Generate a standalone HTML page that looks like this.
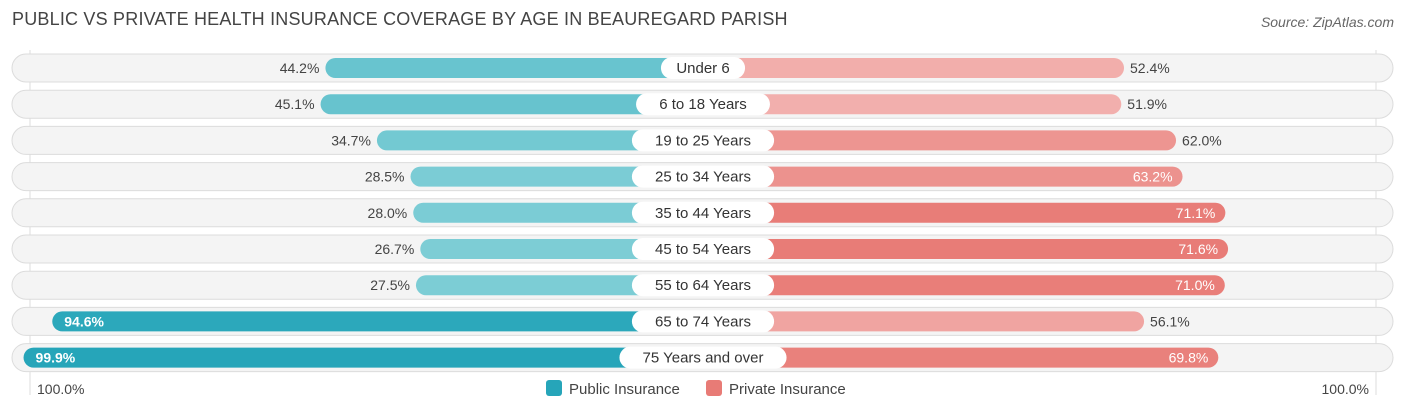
<!DOCTYPE html>
<html><head><meta charset="utf-8"><style>
body{margin:0;background:#fff;font-family:"Liberation Sans",sans-serif;}
#wrap{position:relative;width:1406px;height:413px;overflow:hidden;}
.title{position:absolute;left:12px;top:9px;font-size:18px;color:#444;letter-spacing:0.2px}
.src{position:absolute;right:12px;top:14px;font-size:14px;color:#666;font-style:italic}
</style></head><body>
<div id="wrap">
<div class="title">PUBLIC VS PRIVATE HEALTH INSURANCE COVERAGE BY AGE IN BEAUREGARD PARISH</div>
<div class="src">Source: ZipAtlas.com</div>
<svg id="svg" width="1406" height="413" style="position:absolute;left:0;top:0"></svg>
</div>
<script>
const categories=["Under 6","6 to 18 Years","19 to 25 Years","25 to 34 Years","35 to 44 Years","45 to 54 Years","55 to 64 Years","65 to 74 Years","75 Years and over"];
const publicVals=[44.2,45.1,34.7,28.5,28.0,26.7,27.5,94.6,99.9];
const privateVals=[52.4,51.9,62.0,63.2,71.1,71.6,71.0,56.1,69.8];
const axisLabels=["100.0%","100.0%"];
const svg=document.getElementById('svg');
const NS='http://www.w3.org/2000/svg';
const cx=703,zeroL=565,zeroR=840,scale=5.42,top0=68,step=36.2,bh=20;
const xL=v=>zeroL-v*scale, xR=v=>zeroR+v*scale, yC=i=>top0+i*step;
function mk(t,a){const e=document.createElementNS(NS,t);for(const k in a)e.setAttribute(k,a[k]);svg.appendChild(e);return e;}
function mix(c1,c2,t){return 'rgb('+c1.map((c,i)=>Math.round(c+(c2[i]-c)*t)).join(',')+')';}
[30,1376].forEach((x,j)=>{const l=mk('line',{x1:x,x2:x,y1:50,y2:395,stroke:'#ddd','stroke-width':1});
});
categories.forEach((c,i)=>{
 const y=yC(i);
 const tr=mk('rect',{x:12,y:y-14,width:1381,height:28,rx:14,fill:'#f4f4f4',stroke:'#dcdcdc','stroke-width':1});
 
 const pv=publicVals[i],qv=privateVals[i];
 const tp=Math.min(1,Math.max(0,(pv-25)/75)),tq=Math.min(1,Math.max(0,(qv-50)/22));
 const b1=mk('rect',{x:xL(pv),y:y-bh/2,width:cx-xL(pv),height:bh,rx:10,fill:mix([127,206,214],[38,165,185],tp)});
 
 const b2=mk('rect',{x:cx,y:y-bh/2,width:xR(qv)-cx,height:bh,rx:10,fill:mix([243,180,178],[232,123,118],tq)});
 
 const inP=pv>80,inQ=qv>62;
 const t1=mk('text',{x:inP?xL(pv)+12:xL(pv)-6,y:y+5,'font-size':14,fill:inP?'#fff':'#444','text-anchor':inP?'start':'end','font-weight':inP?'bold':'normal'});
 t1.textContent=pv.toFixed(1)+'%';
 const t2=mk('text',{x:inQ?xR(qv)-10:xR(qv)+6,y:y+5,'font-size':14,fill:inQ?'#fff':'#444','text-anchor':inQ?'end':'start'});
 t2.textContent=qv.toFixed(1)+'%';
 const w=c.length*8.3+26;
 const lb=mk('rect',{x:cx-w/2,y:y-11,width:w,height:22,rx:11,fill:'#fff'});
 
 const lt=mk('text',{x:cx,y:y+5,'font-size':15,fill:'#333','text-anchor':'middle'});
 lt.textContent=c;
});
const a1=mk('text',{x:37,y:394,'font-size':14,fill:'#444'});a1.textContent=axisLabels[0];

const a2=mk('text',{x:1369,y:394,'font-size':14,fill:'#444','text-anchor':'end'});a2.textContent=axisLabels[1];

const s1=mk('rect',{x:546,y:380,width:16,height:16,rx:3,fill:'#26a5b9'});

const l1=mk('text',{x:569,y:394,'font-size':15,fill:'#444'});l1.textContent='Public Insurance';

const s2=mk('rect',{x:706,y:380,width:16,height:16,rx:3,fill:'#e87b76'});

const l2=mk('text',{x:729,y:394,'font-size':15,fill:'#444'});l2.textContent='Private Insurance';

</script>
</body></html>
